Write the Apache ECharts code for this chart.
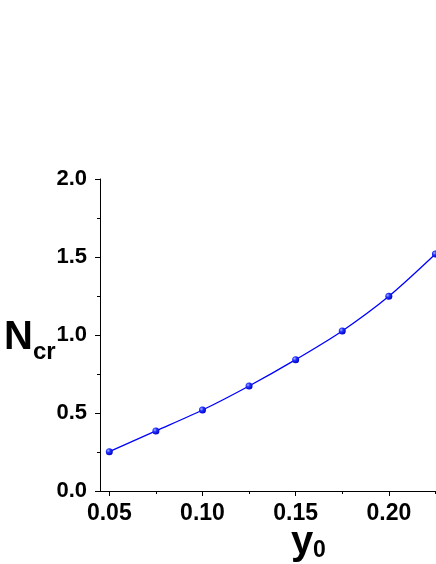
<!DOCTYPE html>
<html>
<head>
<meta charset="utf-8">
<script src="https://cdn.jsdelivr.net/npm/echarts@6/dist/echarts.min.js"></script>
<style>html,body{margin:0;padding:0;background:#fff}#c{width:436px;height:564px}</style>
</head>
<body>
<div id="c"></div>
<script>
const xValues = [0.05, 0.075, 0.10, 0.125, 0.15, 0.175, 0.20, 0.225];
const nCr = [0.252, 0.385, 0.519, 0.673, 0.842, 1.026, 1.248, 1.519];
const xMajorTicks = [0.05, 0.10, 0.15, 0.20, 0.25];
const xMinorTicks = [0.075, 0.125, 0.175, 0.225];
const xTitle = 'y';
const xTitleSub = '0';
const yTitle = 'N';
const yTitleSub = 'cr';

const chart = echarts.init(document.getElementById('c'), null, {renderer: 'canvas'});
const font = '"Liberation Sans", Arial, sans-serif';
const axisColor = '#000';
chart.setOption({
  animation: false,
  backgroundColor: '#fff',
  grid: {left: 100, width: 382, top: 179, height: 312, containLabel: false, outerBoundsMode: 'none'},
  xAxis: [{
    type: 'value', min: 0.045, max: 0.25,
    axisLine: {show: true, onZero: false, lineStyle: {color: axisColor, width: 1}},
    axisTick: {show: true, inside: false, length: 5, customValues: xMajorTicks, lineStyle: {color: axisColor}},
    axisLabel: {customValues: xMajorTicks, margin: 11, color: '#000', fontFamily: font, fontWeight: 'bold', fontSize: 23,
      formatter: v => v.toFixed(2)},
    splitLine: {show: false}
  }, {
    type: 'value', min: 0.045, max: 0.25, position: 'bottom',
    axisLine: {show: false},
    axisTick: {show: true, length: 3, customValues: xMinorTicks, lineStyle: {color: axisColor}},
    axisLabel: {show: false}, splitLine: {show: false}
  }],
  yAxis: {
    type: 'value', min: 0, max: 2.0, interval: 0.5,
    axisLine: {show: true, lineStyle: {color: axisColor, width: 1}},
    axisTick: {show: true, length: 5, lineStyle: {color: axisColor}},
    minorTick: {show: true, splitNumber: 2, length: 3, lineStyle: {color: axisColor}},
    axisLabel: {margin: 13, color: '#000', fontFamily: font, fontWeight: 'bold', fontSize: 22,
      formatter: v => v.toFixed(1)},
    splitLine: {show: false}
  },
  graphic: [
    {type: 'text', left: 4, top: 318, style: {text: yTitle, font: 'bold 40px ' + font, fill: '#000'}},
    {type: 'text', left: 33, top: 340, style: {text: yTitleSub, font: 'bold 24px ' + font, fill: '#000'}},
    {type: 'text', left: 291, top: 523, style: {text: xTitle, font: 'bold 40px ' + font, fill: '#000'}},
    {type: 'text', left: 313, top: 539, style: {text: xTitleSub, font: 'bold 23px ' + font, fill: '#000'}}
  ],
  series: [{
    type: 'line', xAxisIndex: 0,
    data: xValues.map((x, i) => [x, nCr[i]]),
    smooth: 0.3,
    lineStyle: {color: '#0000ff', width: 1.3},
    symbol: 'circle', symbolSize: 7,
    itemStyle: {color: new echarts.graphic.RadialGradient(0.35, 0.35, 0.7, [
      {offset: 0, color: '#aab4ff'}, {offset: 0.4, color: '#1f2fff'}, {offset: 1, color: '#0000c8'}])}
  }]
});
</script>
</body>
</html>
